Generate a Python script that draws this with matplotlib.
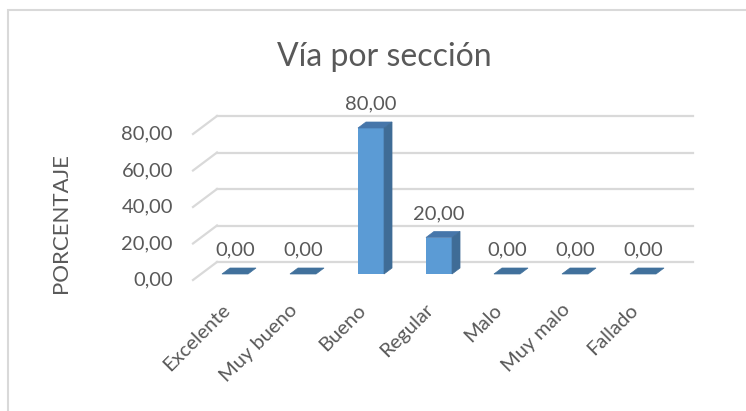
import matplotlib.pyplot as plt
import numpy as np
from matplotlib.patches import Polygon, Rectangle

plt.rcParams['font.family'] = ['Lato', 'DejaVu Sans']

# Calificación de la vía por sección (%)
categorias = ['Excelente', 'Muy bueno', 'Bueno', 'Regular', 'Malo', 'Muy malo', 'Fallado']
porcentajes = [0.00, 0.00, 80.00, 20.00, 0.00, 0.00, 0.00]
ticks_y = [0, 20, 40, 60, 80]

GRIS_TXT = '#595959'
GRIS_GRID = '#D9D9D9'
AZUL = '#5B9BD5'
AZUL_LADO = '#3F6C96'
AZUL_TAPA = '#4676AA'

def fmt(v):
    return f'{v:.2f}'.replace('.', ',')

fig = plt.figure(figsize=(7.46, 4.11), dpi=100)
W, H = 746, 411
ax = fig.add_axes([201 / W, 137 / H, 476 / W, 146 / H])
ax.set_xlim(-0.5, len(categorias) - 0.5)
ax.set_ylim(0, 80)
ax.axis('off')

# desplazamiento de profundidad (8 px a la derecha, 6 px arriba) en unidades de datos
p0 = ax.transData.transform((0, 0))
dx, dy = ax.transData.inverted().transform(p0 + np.array([8, 6]))

# pared del fondo y líneas diagonales a la izquierda
x0, x1 = -0.5, len(categorias) - 0.5
for t in ticks_y:
    ax.plot([x0 + 2 * dx, x1 + 2 * dx], [t + 2 * dy, t + 2 * dy],
            color=GRIS_GRID, lw=1.6, clip_on=False, zorder=1)
    ax.plot([x0 - dx, x0 + 2 * dx], [t - dy, t + 2 * dy],
            color=GRIS_GRID, lw=1.6, clip_on=False, zorder=1)
    ax.annotate(fmt(t), (x0, t), xytext=(-28, -6), textcoords='offset pixels',
                ha='right', va='center', fontsize=14.5, color=GRIS_TXT,
                annotation_clip=False)

w = 0.383
x = np.arange(len(categorias))
ax.bar(x, porcentajes, width=w, color=AZUL, zorder=3, clip_on=False)
for xi, v in zip(x, porcentajes):
    l, r = xi - w / 2, xi + w / 2
    tapa = [(l, v), (r, v), (r + dx, v + dy), (l + dx, v + dy)]
    ax.add_patch(Polygon(tapa, closed=True, color=AZUL_TAPA if v > 0 else '#41719C',
                         zorder=4, clip_on=False, lw=0.5))
    if v > 0:
        lado = [(r, 0), (r, v), (r + dx, v + dy), (r + dx, dy)]
        ax.add_patch(Polygon(lado, closed=True, color=AZUL_LADO, zorder=4,
                             clip_on=False, lw=0.5))
    ax.annotate(fmt(v), (xi, v), xytext=(0, 24), textcoords='offset pixels',
                ha='center', va='center', fontsize=14.5, color=GRIS_TXT,
                annotation_clip=False)
    ax.annotate(categorias[xi], (xi, 0), xytext=(-2, -27), textcoords='offset pixels',
                ha='right', va='top', rotation=45, fontsize=14.5, color=GRIS_TXT,
                annotation_clip=False)

fig.text(384.5 / W, (H - 66) / H, 'Vía por sección', ha='center', va='baseline',
         fontsize=23, color=GRIS_TXT)
fig.text(61 / W, (H - 223.5) / H, 'PORCENTAJE', rotation=90, ha='center', va='center',
         fontsize=16, color=GRIS_TXT)

fig.add_artist(Rectangle((8 / W, -0.1), 1.0, (H - 10) / H + 0.1, transform=fig.transFigure,
                         fill=False, edgecolor=GRIS_GRID, lw=1.5))

fig.savefig('out.png', dpi=100)
